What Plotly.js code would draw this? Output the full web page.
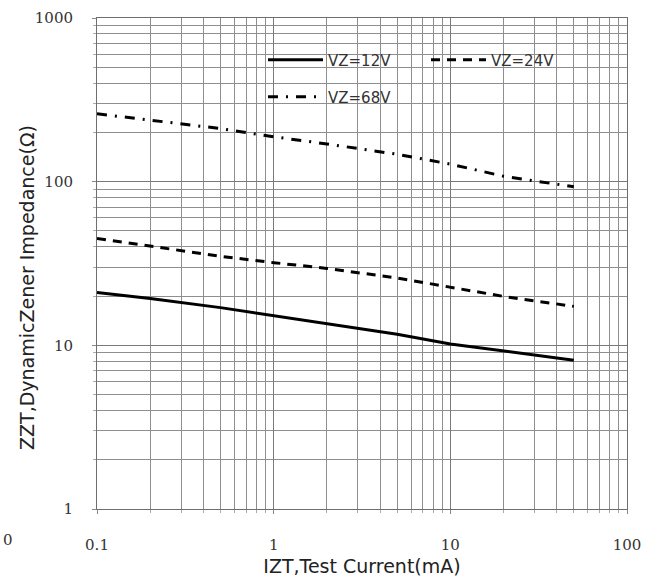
<!DOCTYPE html>
<html>
<head>
<meta charset="utf-8">
<script src="https://cdn.plot.ly/plotly-3.0.1.min.js"></script>
<style>html,body{margin:0;padding:0;background:#fff;}#chart{width:653px;height:588px;}</style>
</head>
<body>
<div id="chart"></div>
<script>
// Test current IZT (mA)
const currentMA = [0.1, 0.2, 0.5, 1, 2, 5, 10, 20, 50];
// Dynamic zener impedance ZZT (ohm)
const zzt12V = [21, 19.3, 17, 15.2, 13.7, 11.7, 10.2, 9.2, 8.1];
const zzt24V = [45, 40.5, 35, 32, 29.5, 25.8, 22.7, 19.9, 17.3];
const zzt68V = [260, 237, 211, 188, 170, 147, 128, 108, 93];
const seriesNames = ['VZ=12V', 'VZ=24V', 'VZ=68V'];

const xMajor = [0.1, 1, 10, 100];
const xMajorText = ['0.1', '1', '10', '100'];
const yMajor = [1, 10, 100, 1000];
const yMajorText = ['1', '10', '100', '1000'];
const mult = [2, 3, 4, 5, 6, 7, 8, 9];
const xMinor = [0.1, 1, 10].flatMap(d => mult.map(m => +(d * m).toPrecision(3)));
const yMinor = [1, 10, 100].flatMap(d => mult.map(m => d * m));

const L = 97, T = 18, W = 530, H = 491;
const px = v => (v - L) / W;
const py = v => (T + H - v) / H;

const traces = [
  {x: currentMA, y: zzt12V, name: seriesNames[0], mode: 'lines', line: {color: '#000', width: 3}, legend: 'legend'},
  {x: currentMA, y: zzt24V, name: seriesNames[1], mode: 'lines', line: {color: '#000', width: 3, dash: '9px,7px'}, legend: 'legend'},
  {x: currentMA, y: zzt68V, name: seriesNames[2], mode: 'lines', line: {color: '#000', width: 3, dash: '10px,8px,2px,8px'}, legend: 'legend2'}
];

const gridColor = '#8e8e8e';
const axisCommon = {
  type: 'log', showgrid: true, gridcolor: '#7a7a7a', gridwidth: 1,
  showline: true, linecolor: '#6f6f6f', linewidth: 1, mirror: true,
  ticks: 'outside', ticklen: 4, tickcolor: '#8a8a8a', zeroline: false,
  tickmode: 'array',
  tickfont: {family: 'DejaVu Serif', size: 15, color: '#333'},
  minor: {tickmode: 'array', showgrid: true, gridcolor: gridColor, gridwidth: 1, ticks: 'outside', ticklen: 3, tickcolor: '#aaa'}
};

const layout = {
  width: 653, height: 588,
  margin: {l: L, r: 653 - L - W, t: T, b: 588 - T - H},
  paper_bgcolor: '#fff', plot_bgcolor: '#fff',
  showlegend: true,
  xaxis: Object.assign({}, axisCommon, {
    range: [-1, 2], tickvals: xMajor, ticktext: xMajorText, ticklabelstandoff: 18,
    minor: Object.assign({}, axisCommon.minor, {tickvals: xMinor}),
    title: {text: 'IZT,Test Current(mA)', font: {family: 'DejaVu Sans', size: 19, color: '#222'}, standoff: 6}
  }),
  yaxis: Object.assign({}, axisCommon, {
    range: [0, 3], tickvals: yMajor, ticktext: yMajorText, ticklabelstandoff: 16,
    minor: Object.assign({}, axisCommon.minor, {tickvals: yMinor})
  }),
  legend: {
    orientation: 'h', x: px(263), xanchor: 'left', y: py(60), yanchor: 'middle',
    bgcolor: 'rgba(0,0,0,0)', borderwidth: 0, itemwidth: 55, entrywidth: 93,
    font: {family: 'DejaVu Sans', size: 15, color: '#333'}
  },
  legend2: {
    orientation: 'h', x: px(263), xanchor: 'left', y: py(97), yanchor: 'middle',
    bgcolor: 'rgba(0,0,0,0)', borderwidth: 0, itemwidth: 55,
    font: {family: 'DejaVu Sans', size: 15, color: '#333'}
  },
  shapes: [
    {type: 'rect', xref: 'paper', yref: 'paper', x0: px(248), x1: px(575), y0: py(117), y1: py(35),
     fillcolor: '#fff', line: {width: 0}, layer: 'between'}
  ],
  annotations: [
    {text: 'ZZT,DynamicZener Impedance(Ω)', xref: 'paper', yref: 'paper', x: px(27), y: py(288),
     xanchor: 'center', yanchor: 'middle', textangle: -90, showarrow: false,
     font: {family: 'DejaVu Sans', size: 19, color: '#222'}},
    {text: '0', xref: 'paper', yref: 'paper', x: px(1), y: py(540), xanchor: 'left', yanchor: 'middle',
     showarrow: false, font: {family: 'DejaVu Serif', size: 15, color: '#333'}}
  ]
};

Plotly.newPlot('chart', traces, layout, {displayModeBar: false, staticPlot: true});
</script>
</body>
</html>
